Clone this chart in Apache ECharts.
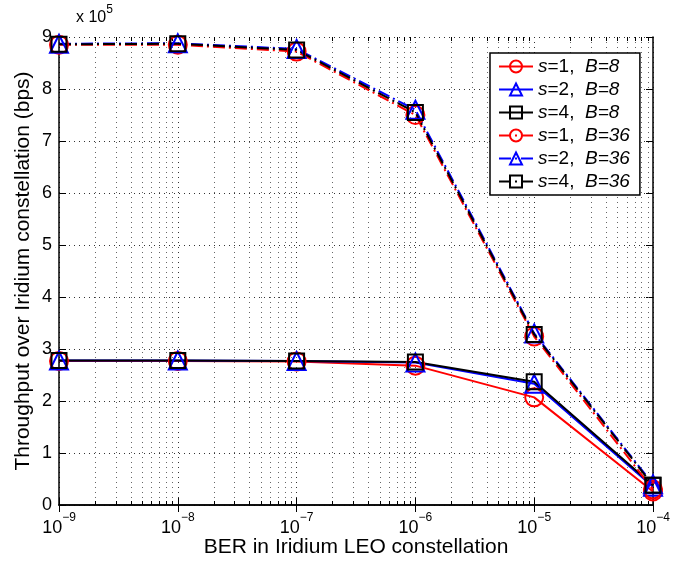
<!DOCTYPE html>
<html>
<head>
<meta charset="utf-8">
<script src="https://cdn.jsdelivr.net/npm/echarts@6/dist/echarts.min.js"></script>
<style>
  html, body { margin: 0; padding: 0; background: #fff; }
  #chart { width: 679px; height: 561px; }
</style>
</head>
<body>
<div id="chart"></div>
<script>
  // BER values on the x axis
  var ber = [1e-9, 1e-8, 1e-7, 1e-6, 1e-5, 1e-4];
  // throughput in units of 10^5 bps
  var s1B8 = [2.77, 2.77, 2.76, 2.68, 2.07, 0.26];
  var s2B8 = [2.78, 2.78, 2.77, 2.74, 2.33, 0.35];
  var s4B8 = [2.78, 2.78, 2.77, 2.75, 2.37, 0.38];
  var s1B36 = [8.85, 8.85, 8.72, 7.50, 3.24, 0.30];
  var s2B36 = [8.87, 8.88, 8.77, 7.60, 3.30, 0.40];
  var s4B36 = [8.86, 8.87, 8.75, 7.55, 3.28, 0.38];
  var yTicks = [0, 1, 2, 3, 4, 5, 6, 7, 8, 9];

  var font = 'Liberation Sans, Arial, sans-serif';

  function pairs(vals) {
    return vals.map(function (v, i) { return [ber[i], v]; });
  }

  // minor log grid positions (2..9 x 10^e)
  var minorX = [];
  for (var e = -9; e < -4; e++) {
    for (var k = 2; k <= 9; k++) {
      minorX.push([k * Math.pow(10, e), 0]);
    }
  }

  var dashDot = [12, 4, 2, 4];

  function mkSeries(name, vals, color, symbol, size, dashed) {
    return {
      name: name,
      type: 'line',
      data: pairs(vals),
      symbol: symbol,
      symbolSize: size,
      showSymbol: true,
      itemStyle: { color: 'rgba(0,0,0,0)', borderColor: color, borderWidth: 2 },
      lineStyle: { color: color, width: 2, type: dashed ? dashDot : 'solid' },
      emphasis: { disabled: true },
      animation: false,
      z: 3
    };
  }

  var chart = echarts.init(document.getElementById('chart'));

  var option = {
    animation: false,
    grid: { left: 59, right: 26, top: 37, bottom: 56, outerBoundsMode: 'none' },
    legend: {
      left: 490,
      top: 53,
      orient: 'vertical',
      backgroundColor: '#fff',
      borderColor: '#000',
      borderWidth: 1.5,
      borderRadius: 0,
      padding: [4, 10, 4, 8],
      itemGap: 4,
      itemWidth: 34,
      itemHeight: 15,
      textStyle: {
        fontFamily: font, fontSize: 19, color: '#000',
        rich: {
          i: { fontFamily: font, fontSize: 19, fontStyle: 'italic', color: '#000' },
          n: { fontFamily: font, fontSize: 19, color: '#000' }
        }
      },
      formatter: function (name) {
        var m = name.split('|');
        return '{i|s}{n|=' + m[0] + ',  }{i|B=' + m[1] + '}';
      },
      data: ['1|8', '2|8', '4|8', '1|36', '2|36', '4|36']
    },
    graphic: [{
      type: 'text',
      left: 76,
      top: 4,
      style: {
        text: '{a|x 10}{s|5}',
        rich: {
          a: { fontFamily: font, fontSize: 16, color: '#000', padding: [6, 0, 0, 0] },
          s: { fontFamily: font, fontSize: 12, color: '#000', verticalAlign: 'top' }
        }
      }
    }],
    xAxis: [{
      type: 'log',
      logBase: 10,
      min: 1e-9,
      max: 1e-4,
      name: 'BER in Iridium LEO constellation',
      nameLocation: 'middle',
      nameGap: 32,
      nameMoveOverlap: false,
      nameTextStyle: { fontFamily: font, fontSize: 21, color: '#000' },
      axisLine: { lineStyle: { color: '#000', width: 1.5 } },
      axisTick: { inside: true, length: 7, lineStyle: { color: '#000' } },
      splitLine: { show: true, lineStyle: { color: '#333', type: [1, 4], width: 1 } },
      axisLabel: {
        margin: 7,
        formatter: function (v) {
          var ex = Math.round(Math.log10(v));
          return '{b|10}{s|\u2212' + Math.abs(ex) + '}';
        },
        rich: {
          b: { fontFamily: font, fontSize: 18, color: '#000', padding: [7, 0, 0, 0] },
          s: { fontFamily: font, fontSize: 12, color: '#000', verticalAlign: 'top' }
        }
      }
    }, {
      type: 'log',
      logBase: 10,
      min: 1e-9,
      max: 1e-4,
      position: 'top',
      axisLine: { lineStyle: { color: '#000', width: 1.5 } },
      axisTick: { inside: true, length: 7, lineStyle: { color: '#000' } },
      axisLabel: { show: false },
      splitLine: { show: false }
    }],
    yAxis: [{
      type: 'value',
      min: 0,
      max: 9,
      interval: 1,
      name: 'Throughput over Iridium constellation (bps)',
      nameLocation: 'middle',
      nameRotate: 90,
      nameGap: 25,
      nameMoveOverlap: false,
      nameTextStyle: { fontFamily: font, fontSize: 21, color: '#000' },
      axisLine: { show: true, lineStyle: { color: '#000', width: 1.5 } },
      axisTick: { show: true, inside: true, length: 7, lineStyle: { color: '#000' } },
      splitLine: { show: true, lineStyle: { color: '#333', type: [1, 4], width: 1 } },
      axisLabel: {
        fontFamily: font, fontSize: 18, color: '#000', margin: 7,
        formatter: function (v) { return yTicks.indexOf(v) >= 0 ? String(v) : ''; }
      }
    }, {
      type: 'value',
      min: 0,
      max: 9,
      interval: 1,
      position: 'right',
      axisLine: { show: true, lineStyle: { color: '#000', width: 1.5 } },
      axisTick: { show: true, inside: true, length: 7, lineStyle: { color: '#000' } },
      axisLabel: { show: false },
      splitLine: { show: false }
    }],
    series: [
      {
        // minor grid lines + minor ticks on the log axis
        type: 'custom',
        data: minorX,
        silent: true,
        z: 1,
        encode: { x: 0, y: 1 },
        renderItem: function (params, api) {
          var cs = params.coordSys;
          var x = Math.round(api.coord([api.value(0), 0])[0]) + 0.5;
          var top = cs.y, bot = cs.y + cs.height;
          return {
            type: 'group',
            children: [
              { type: 'line', shape: { x1: x, y1: top, x2: x, y2: bot },
                style: { stroke: '#666', lineWidth: 1, lineDash: [1, 4] } },
              { type: 'line', shape: { x1: x, y1: bot, x2: x, y2: bot - 4 },
                style: { stroke: '#000', lineWidth: 1 } },
              { type: 'line', shape: { x1: x, y1: top, x2: x, y2: top + 4 },
                style: { stroke: '#000', lineWidth: 1 } }
            ]
          };
        }
      },
      mkSeries('1|8', s1B8, '#ff0000', 'circle', 18, false),
      mkSeries('2|8', s2B8, '#0000ff', 'triangle', 18, false),
      mkSeries('4|8', s4B8, '#000000', 'rect', 15, false),
      mkSeries('1|36', s1B36, '#ff0000', 'circle', 18, true),
      mkSeries('2|36', s2B36, '#0000ff', 'triangle', 18, true),
      mkSeries('4|36', s4B36, '#000000', 'rect', 15, true)
    ]
  };

  chart.setOption(option);
</script>
</body>
</html>
